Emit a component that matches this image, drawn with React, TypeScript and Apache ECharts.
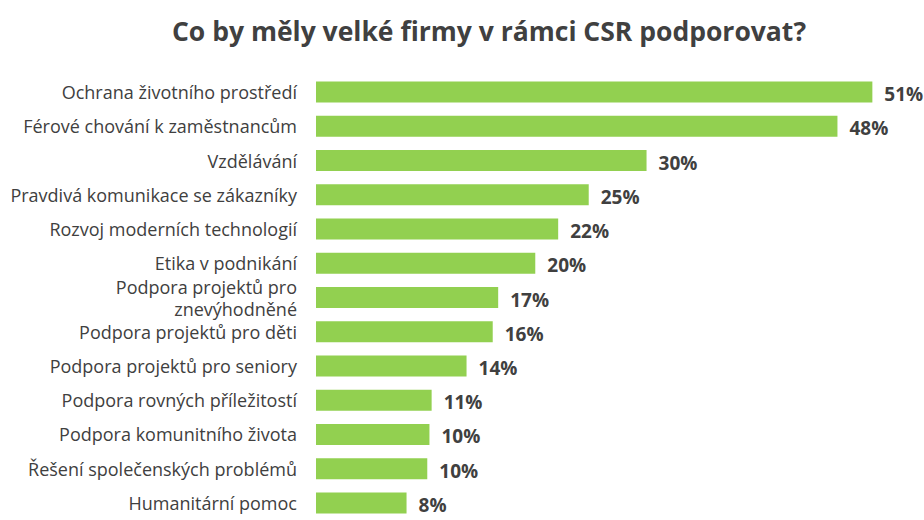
import React, { useEffect, useRef } from "react";
import * as echarts from "echarts";

const title = "Co by měly velké firmy v rámci CSR podporovat?";
const categories = [
  "Ochrana životního prostředí",
  "Férové chování k zaměstnancům",
  "Vzdělávání",
  "Pravdivá komunikace se zákazníky",
  "Rozvoj moderních technologií",
  "Etika v podnikání",
  "Podpora projektů pro\nznevýhodněné",
  "Podpora projektů pro děti",
  "Podpora projektů pro seniory",
  "Podpora rovných příležitostí",
  "Podpora komunitního života",
  "Řešení společenských problémů",
  "Humanitární pomoc",
];
const values = [51.0, 47.8, 30.3, 25.0, 22.2, 20.1, 16.7, 16.2, 13.8, 10.6, 10.4, 10.2, 8.3];

export default function App() {
  const ref = useRef<HTMLDivElement>(null);
  useEffect(() => {
    document.body.style.margin = "0";
    const chart = echarts.init(ref.current!, null, { renderer: "svg" });
    chart.setOption({
      animation: false,
      backgroundColor: "#ffffff",
      title: {
        text: title,
        left: 484,
        textAlign: "center",
        top: 12,
        textStyle: {
          fontFamily: "Open Sans",
          fontWeight: "bold",
          fontSize: 26.5,
          color: "#404040",
        },
      },
      grid: { left: 316, top: 75, width: 600, height: 455, containLabel: false },
      xAxis: {
        type: "value",
        min: 0,
        max: 55,
        show: false,
      },
      yAxis: {
        type: "category",
        data: categories,
        inverse: true,
        axisLine: { show: false },
        axisTick: { show: false },
        splitLine: { show: false },
        axisLabel: {
          margin: 19,
          fontFamily: "Open Sans",
          fontSize: 18,
          color: "#404040",
          lineHeight: 22,
        },
      },
      series: [
        {
          type: "bar",
          data: values,
          barWidth: 21,
          itemStyle: { color: "#92D050" },
          label: {
            show: true,
            position: "right",
            distance: 12,
            offset: [0, 2],
            formatter: (p: any) => Math.round(p.value) + "%",
            fontFamily: "Open Sans",
            fontWeight: "bold",
            fontSize: 19,
            color: "#404040",
          },
        },
      ],
    });
    return () => chart.dispose();
  }, []);
  return <div ref={ref} style={{ width: 924, height: 520 }} />;
}
